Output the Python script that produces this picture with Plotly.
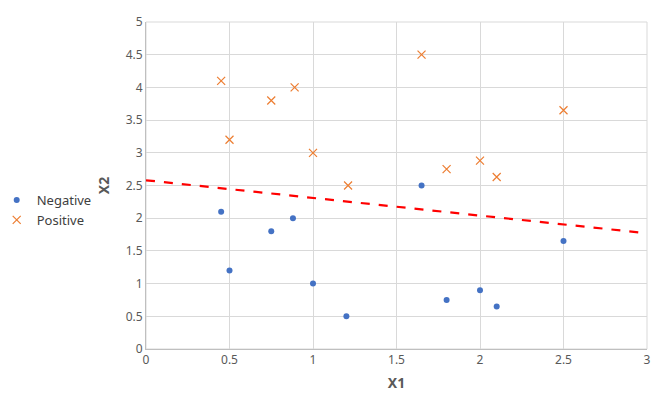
import plotly.graph_objects as go

neg_x1 = [0.45, 0.5, 0.75, 0.88, 1.0, 1.2, 1.65, 1.8, 2.0, 2.1, 2.5]
neg_x2 = [2.1, 1.2, 1.8, 2.0, 1.0, 0.5, 2.5, 0.75, 0.9, 0.65, 1.65]
pos_x1 = [0.45, 0.5, 0.75, 0.89, 1.0, 1.21, 1.65, 1.8, 2.0, 2.1, 2.5]
pos_x2 = [4.1, 3.2, 3.8, 4.0, 3.0, 2.5, 4.5, 2.75, 2.88, 2.63, 3.65]
line_x = [0, 3]
line_y = [2.58, 1.77]

fig = go.Figure()
fig.add_trace(go.Scatter(x=neg_x1, y=neg_x2, mode="markers", name="Negative",
                         marker=dict(symbol="circle", size=6, color="#4472C4")))
fig.add_trace(go.Scatter(x=pos_x1, y=pos_x2, mode="markers", name="Positive",
                         marker=dict(symbol="x-thin", size=8, color="#ED7D31",
                                     line=dict(width=1.2, color="#ED7D31"))))
fig.add_trace(go.Scatter(x=line_x, y=line_y, mode="lines", showlegend=False,
                         line=dict(color="#FF0000", width=2.2, dash="dash")))

fig.update_layout(
    width=664, height=407,
    margin=dict(l=138, r=25, t=14, b=66, autoexpand=False),
    paper_bgcolor="white", plot_bgcolor="white",
    font=dict(family="Noto Sans, Arial, sans-serif", size=12, color="#595959"),
    legend=dict(x=-0.298, y=0.425, xanchor="left", yanchor="middle",
                font=dict(size=13, color="#404040"), itemwidth=30,
                tracegroupgap=2),
    xaxis=dict(range=[0, 3], dtick=0.5, showgrid=True, gridcolor="#D9D9D9",
               zeroline=False, showline=True, linecolor="#BFBFBF", automargin=False,
               title=dict(text="<b>X1</b>", font=dict(size=14, color="#595959"), standoff=10),
               ticks="", tickfont=dict(size=12, color="#595959")),
    yaxis=dict(range=[0, 5], dtick=0.5, showgrid=True, gridcolor="#D9D9D9",
               zeroline=False, showline=True, linecolor="#BFBFBF", automargin=False,
               title=dict(text="<b>X2</b>", font=dict(size=14, color="#595959"), standoff=12),
               ticks="", tickfont=dict(size=12, color="#595959")),
)
fig.add_shape(type="rect", xref="paper", yref="paper", x0=0, x1=1, y0=0, y1=1,
              line=dict(color="#D9D9D9", width=1), layer="below")
fig.write_html("out.html")
